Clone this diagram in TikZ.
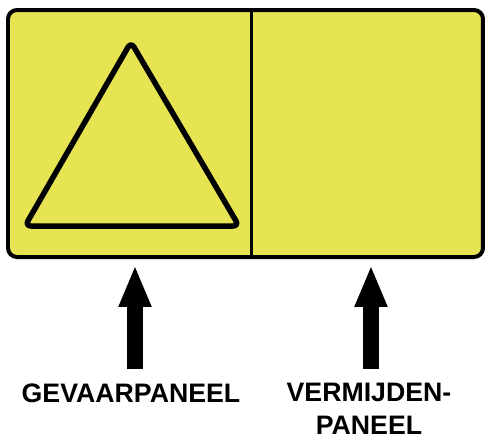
\documentclass[tikz,border=0pt]{standalone}
\usepackage{fontspec}
\setmainfont{Liberation Sans}
\usetikzlibrary{arrows.meta,positioning,calc}

\definecolor{signyellow}{RGB}{230,228,82}

\begin{document}
\begin{tikzpicture}[
  x=0.02cm, y=-0.02cm,
  lbl/.style={inner sep=0pt, anchor=north, align=center,
    font=\bfseries\fontsize{15.2}{18.4}\selectfont},
  uparrow/.style={line width=0.32cm, -{Triangle[length=0.84cm,width=0.6cm]}}
]
  \useasboundingbox (0,0) rectangle (485,437);

  % sign with the two panels
  \filldraw[fill=signyellow, draw=black, line width=0.08cm, rounded corners=0.18cm]
    (8,10) rectangle (483,257);
  \coordinate (divtop) at (252,10);
  \coordinate (divbot) at (252,257);
  \draw[line width=0.06cm] (divtop) -- (divbot);

  % warning triangle
  \coordinate (apex) at (131,42);
  \coordinate (baseL) at (25,226);
  \coordinate (baseR) at (239,226);
  \draw[line width=0.11cm, line join=round, rounded corners=0.12cm]
    (apex) -- (baseR) -- (baseL) -- cycle;

  % labels
  \node[lbl] (lblgevaar) at (131,383) {GEVAARPANEEL};
  \node[lbl] (lblvermijden) at (369,383) {VERMIJDEN-\\PANEEL};

  % arrows
  \coordinate (tipgevaar) at (135,265);
  \coordinate (tipvermijden) at (371,265);
  \draw[uparrow, shorten <=0.28cm] (lblgevaar.north -| tipgevaar) -- (tipgevaar);
  \draw[uparrow, shorten <=0.28cm] (lblvermijden.north -| tipvermijden) -- (tipvermijden);
\end{tikzpicture}
\end{document}
